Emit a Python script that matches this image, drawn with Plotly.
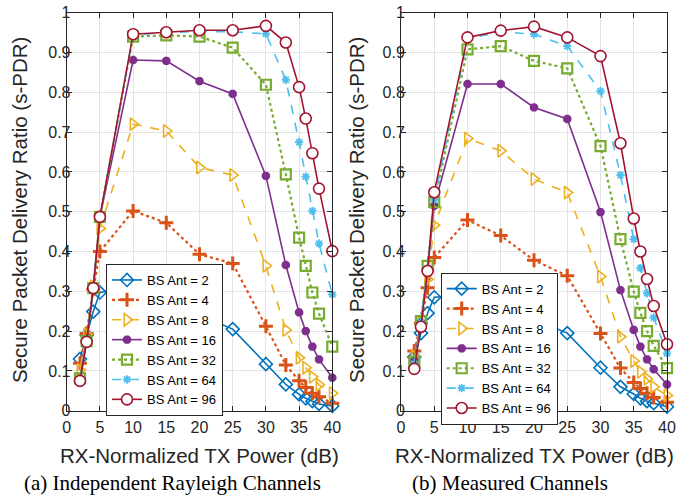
import plotly.graph_objects as go

# ---------------- data ----------------
tx_power = [2, 3, 4, 5, 10, 15, 20, 25, 30, 33, 35, 36, 37, 38, 40]
series_names = ["BS Ant = 2", "BS Ant = 4", "BS Ant = 8", "BS Ant = 16",
                "BS Ant = 32", "BS Ant = 64", "BS Ant = 96"]

# (a) Independent Rayleigh channels
rayleigh_ant2 = [0.130, 0.190, 0.249, 0.297, 0.310, 0.290, 0.240, 0.205, 0.117, 0.066, 0.041, 0.031, 0.024, 0.017, 0.012]
rayleigh_ant4 = [0.119, 0.194, 0.305, 0.400, 0.502, 0.472, 0.393, 0.370, 0.212, 0.115, 0.075, 0.058, 0.044, 0.035, 0.019]
rayleigh_ant8 = [0.102, 0.192, 0.313, 0.458, 0.720, 0.703, 0.611, 0.592, 0.364, 0.203, 0.133, 0.108, 0.085, 0.065, 0.044]
rayleigh_ant16 = [0.080, 0.178, 0.308, 0.487, 0.881, 0.879, 0.828, 0.796, 0.590, 0.366, 0.247, 0.200, 0.161, 0.129, 0.083]
rayleigh_ant32 = [0.081, 0.175, 0.308, 0.487, 0.940, 0.943, 0.940, 0.912, 0.819, 0.594, 0.435, 0.364, 0.297, 0.244, 0.161]
rayleigh_ant64 = [0.078, 0.174, 0.308, 0.487, 0.944, 0.950, 0.953, 0.952, 0.947, 0.831, 0.675, 0.588, 0.502, 0.420, 0.292]
rayleigh_ant96 = [0.075, 0.173, 0.308, 0.487, 0.946, 0.951, 0.956, 0.956, 0.967, 0.925, 0.813, 0.734, 0.647, 0.558, 0.401]

# (b) Measured channels
measured_ant2 = [0.135, 0.195, 0.245, 0.285, 0.290, 0.270, 0.230, 0.195, 0.108, 0.060, 0.042, 0.031, 0.024, 0.019, 0.010]
measured_ant4 = [0.150, 0.220, 0.309, 0.385, 0.479, 0.440, 0.378, 0.339, 0.194, 0.107, 0.071, 0.056, 0.044, 0.033, 0.021]
measured_ant8 = [0.137, 0.220, 0.330, 0.466, 0.684, 0.653, 0.582, 0.548, 0.337, 0.186, 0.125, 0.098, 0.080, 0.060, 0.038]
measured_ant16 = [0.125, 0.222, 0.355, 0.515, 0.821, 0.821, 0.762, 0.733, 0.499, 0.303, 0.203, 0.161, 0.129, 0.104, 0.066]
measured_ant32 = [0.123, 0.225, 0.364, 0.524, 0.908, 0.916, 0.879, 0.860, 0.665, 0.431, 0.299, 0.246, 0.200, 0.163, 0.107]
measured_ant64 = [0.118, 0.222, 0.358, 0.530, 0.935, 0.952, 0.946, 0.916, 0.803, 0.592, 0.431, 0.358, 0.295, 0.234, 0.144]
measured_ant96 = [0.105, 0.211, 0.351, 0.549, 0.938, 0.955, 0.965, 0.938, 0.891, 0.672, 0.483, 0.400, 0.331, 0.263, 0.167]

x_ticks = [0, 5, 10, 15, 20, 25, 30, 35, 40]
y_ticks = [0, 0.1, 0.2, 0.3, 0.4, 0.5, 0.6, 0.7, 0.8, 0.9, 1]
y_tick_labels = ["0", "0.1", "0.2", "0.3", "0.4", "0.5", "0.6", "0.7", "0.8", "0.9", "1"]

x_title = "RX-Normalized TX Power (dB)"
y_title = "Secure Packet Delivery Ratio (s-PDR)"
captions = ["(a) Independent Rayleigh Channels", "(b) Measured Channels"]

# ---------------- styles ----------------
styles = [
    dict(color="#0072BD", dash="solid", symbol="diamond-open", size=10, mlw=1.6, lw=1.6),
    dict(color="#D95319", dash="dot", symbol="cross-thin-open", size=10, mlw=3, lw=2.2),
    dict(color="#EDB120", dash="dash", symbol="triangle-right-open", size=11, mlw=1.6, lw=1.6),
    dict(color="#7E2F8E", dash="solid", symbol="asterisk-open", size=7, mlw=3, lw=1.6),
    dict(color="#77AC30", dash="dot", symbol="square-open", size=10, mlw=2.2, lw=2.2),
    dict(color="#4DBEEE", dash="dash", symbol="asterisk-open", size=7, mlw=1.8, lw=1.6),
    dict(color="#A2142F", dash="solid", symbol="circle", size=11, mlw=1.6, lw=1.6),
]

panels = [
    ([rayleigh_ant2, rayleigh_ant4, rayleigh_ant8, rayleigh_ant16,
      rayleigh_ant32, rayleigh_ant64, rayleigh_ant96], "x", "y", "legend"),
    ([measured_ant2, measured_ant4, measured_ant8, measured_ant16,
      measured_ant32, measured_ant64, measured_ant96], "x2", "y2", "legend2"),
]

fig = go.Figure()
for series, xa, ya, lg in panels:
    for name, vals, st in zip(series_names, series, styles):
        marker = dict(symbol=st["symbol"], size=st["size"],
                      color=st["color"],
                      line=dict(color=st["color"], width=st["mlw"]))
        if st["symbol"] == "circle":
            marker["color"] = "white"
        fig.add_trace(go.Scatter(
            x=tx_power, y=vals, name=name, mode="lines+markers",
            xaxis=xa, yaxis=ya, legend=lg, cliponaxis=False,
            line=dict(color=st["color"], width=st["lw"], dash=st["dash"]),
            marker=marker,
        ))

FONT = "Liberation Sans, Arial, Helvetica, sans-serif"
axis_common = dict(
    showline=True, linecolor="#262626", linewidth=1, mirror="ticks",
    ticks="inside", ticklen=5, tickcolor="#262626", tickwidth=1,
    showgrid=True, gridcolor="#e3e3e3", gridwidth=1, zeroline=False,
    automargin=False,
    tickfont=dict(family=FONT, size=16, color="#262626"),
)

H = 496.0
ydom = [1 - 410.7 / H, 1 - 12.7 / H]
legend_common = dict(xanchor="left", yanchor="top",
                     bgcolor="white", bordercolor="#262626", borderwidth=1,
                     font=dict(family=FONT, size=13, color="#000000"),
                     tracegroupgap=0, itemwidth=30)
fig.update_layout(
    width=689, height=496,
    margin=dict(l=0, r=0, t=0, b=0, autoexpand=False),
    paper_bgcolor="white", plot_bgcolor="white",
    font=dict(family=FONT, color="#262626"),
    xaxis=dict(domain=[66.7 / 689, 332.3 / 689], range=[0, 40], tickvals=x_ticks,
               anchor="y", ticklabelstandoff=2, **axis_common),
    yaxis=dict(domain=ydom, range=[0, 1], tickvals=y_ticks, ticktext=y_tick_labels,
               anchor="x", ticklabelstandoff=-8, **axis_common),
    xaxis2=dict(domain=[401 / 689, 667 / 689], range=[0, 40], tickvals=x_ticks,
                anchor="y2", ticklabelstandoff=2, **axis_common),
    yaxis2=dict(domain=ydom, range=[0, 1], tickvals=y_ticks, ticktext=y_tick_labels,
                anchor="x2", ticklabelstandoff=-8, **axis_common),
    legend=dict(x=106 / 689, y=1 - 264 / H, **legend_common),
    legend2=dict(x=440.7 / 689, y=1 - 272.7 / H, **legend_common),
    showlegend=True,
)

annotations = []
for cx, ylx in [(199.5, 20), (534, 357)]:
    annotations.append(dict(text=x_title, x=cx / 689, y=1 - 455 / H, xref="paper", yref="paper",
                            xanchor="center", yanchor="middle", showarrow=False,
                            font=dict(family=FONT, size=20.5, color="#262626")))
    annotations.append(dict(text=y_title, x=ylx / 689, y=1 - 210 / H, xref="paper", yref="paper",
                            xanchor="center", yanchor="middle", showarrow=False, textangle=-90,
                            font=dict(family=FONT, size=20.5, color="#262626")))
for lx, cap in zip([22, 410], captions):
    annotations.append(dict(text=cap, x=lx / 689, y=1 - 483 / H, xref="paper", yref="paper",
                            xanchor="left", yanchor="middle", showarrow=False,
                            font=dict(family="Liberation Serif, Times New Roman, serif", size=21,
                                      color="#000000")))
fig.update_layout(annotations=annotations)

fig.write_html("out.html", config={"displayModeBar": False},
               post_script="document.body.style.margin='0';document.body.style.overflow='hidden';")
